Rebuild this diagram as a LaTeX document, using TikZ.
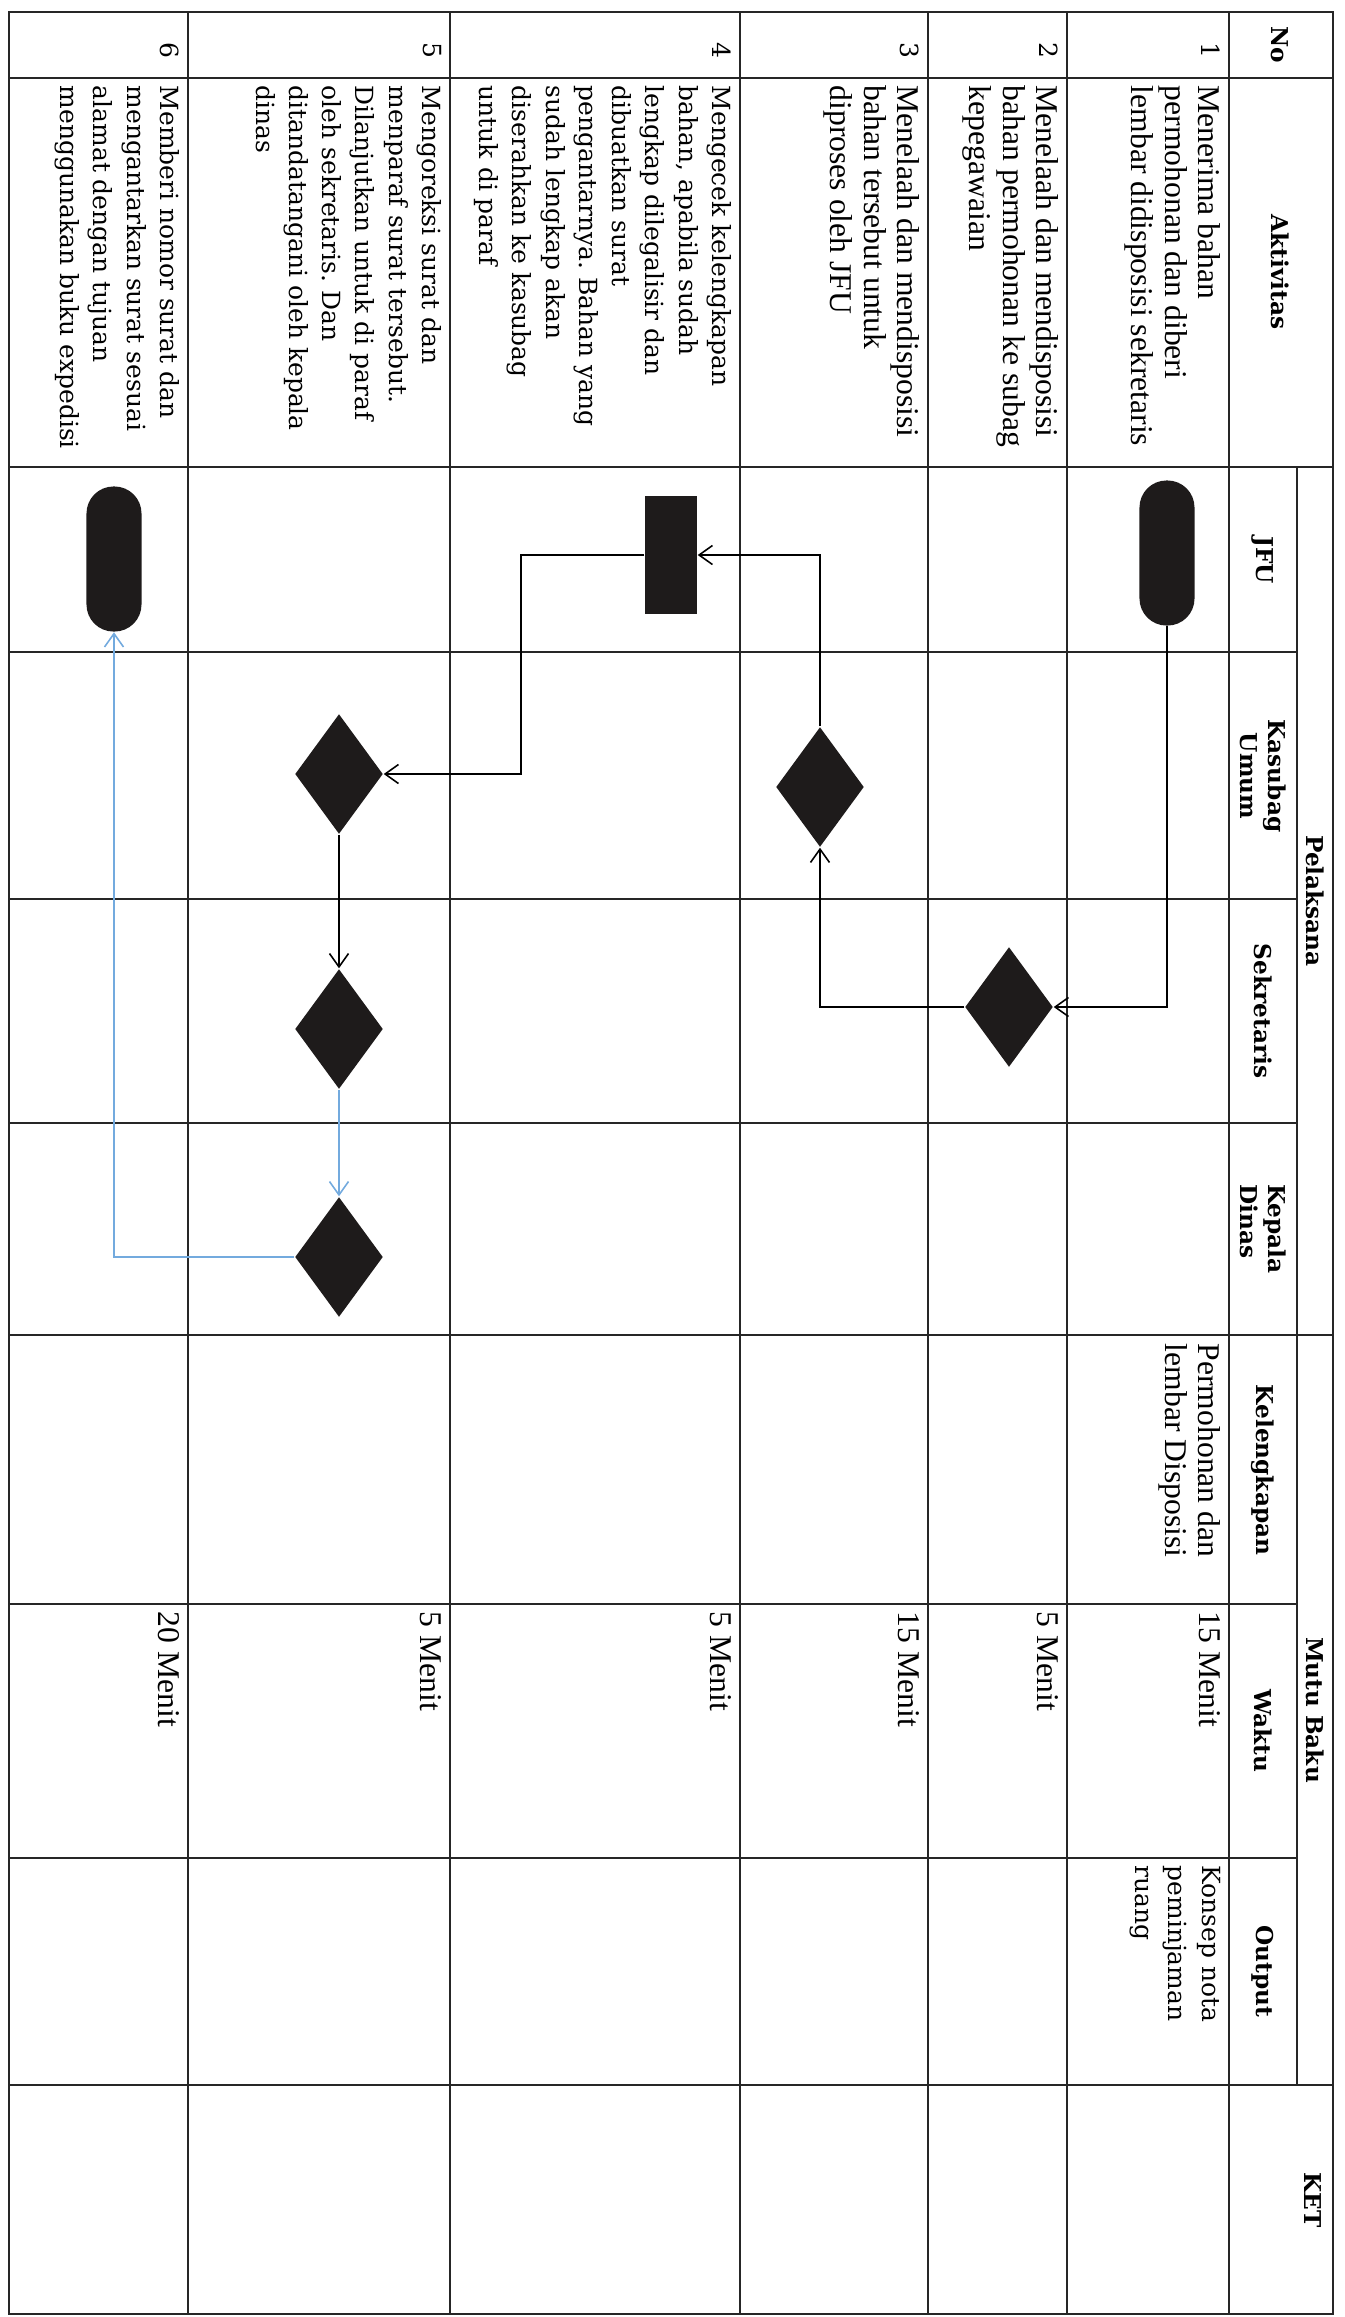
\documentclass[tikz,border=0pt]{standalone}
\usepackage{fontspec}
\setmainfont{DejaVu Serif}
\newfontfamily\timesfont{Liberation Serif}
\usetikzlibrary{shapes.geometric,arrows.meta}
\frenchspacing

\definecolor{shapefill}{RGB}{30,27,27}
\definecolor{flowblue}{RGB}{115,170,222}
\newcommand{\headfont}{\fontsize{6.6}{8}\selectfont\bfseries}
\newcommand{\timestext}{\timesfont\fontsize{9}{9.45}\selectfont}
\newcommand{\bookmantext}{\fontsize{7.1}{9.45}\selectfont}

\begin{document}
\begin{tikzpicture}[x=0.01cm,y=-0.01cm,
  grid/.style={line width=0.6pt,black!85},
  head/.style={rotate=-90,font=\headfont,inner sep=0pt},
  cellt/.style={rotate=-90,anchor=north west,inner sep=0pt,align=left,font=\timestext},
  cellb/.style={rotate=-90,anchor=north west,inner sep=0pt,align=left,font=\bookmantext},
  terminal/.style={rectangle,rounded corners=0.27cm,fill=shapefill,minimum width=0.55cm,minimum height=1.45cm,inner sep=0pt},
  process/.style={rectangle,fill=shapefill,minimum width=0.52cm,minimum height=1.18cm,inner sep=0pt},
  decision/.style={diamond,fill=shapefill,minimum width=0.88cm,minimum height=1.2cm,inner sep=0pt},
  flow/.style={line width=0.45pt,-{Straight Barb[length=3.8pt,width=5.4pt]}},
  flowb/.style={flow,draw=flowblue}]
  \useasboundingbox (0,0) rectangle (1344,2317);

  % table frame
  \draw[grid] (9,12) rectangle (1333,2314);
  \draw[grid] (188,12) -- (188,2314);
  \draw[grid] (450,12) -- (450,2314);
  \draw[grid] (740,12) -- (740,2314);
  \draw[grid] (928,12) -- (928,2314);
  \draw[grid] (1067,12) -- (1067,2314);
  \draw[grid] (1229,12) -- (1229,2314);
  \draw[grid] (1297,467) -- (1297,2085);
  \draw[grid] (9,78) -- (1333,78);
  \draw[grid] (9,467) -- (1333,467);
  \draw[grid] (9,1335) -- (1333,1335);
  \draw[grid] (9,2085) -- (1333,2085);
  \draw[grid] (9,652) -- (1297,652);
  \draw[grid] (9,899) -- (1297,899);
  \draw[grid] (9,1123) -- (1297,1123);
  \draw[grid] (9,1604) -- (1297,1604);
  \draw[grid] (9,1858) -- (1297,1858);

  % header
  \node[head] (hno) at (1280,45) {No};
  \node[head] (hakt) at (1280,272) {Aktivitas};
  \node[head] (hpel) at (1315,901) {Pelaksana};
  \node[head] (hjfu) at (1263,560) {JFU};
  \node[head,align=center] (hkas) at (1263,776) {Kasubag\\Umum};
  \node[head] (hsek) at (1263,1011) {Sekretaris};
  \node[head,align=left] (hkep) at (1263,1229) {Kepala\\Dinas};
  \node[head] (hmutu) at (1315,1710) {Mutu Baku};
  \node[head] (hkel) at (1263,1470) {Kelengkapan};
  \node[head] (hwak) at (1263,1731) {Waktu};
  \node[head] (hout) at (1263,1971) {Output};
  \node[head] (hket) at (1313,2200) {KET};

  % rows
  \node[cellb] (no1) at (1221,42) {1};
  \node[cellb] (no2) at (1059,42) {2};
  \node[cellb] (no3) at (920,42) {3};
  \node[cellb] (no4) at (732,42) {4};
  \node[cellb] (no5) at (442,42) {5};
  \node[cellb] (no6) at (180,42) {6};
  \node[cellt] (akt1) at (1221,85) {Menerima bahan\\permohonan dan diberi\\lembar didisposisi sekretaris};
  \node[cellt] (akt2) at (1059,85) {Menelaah dan mendisposisi\\bahan permohonan ke subag\\kepegawaian};
  \node[cellt] (akt3) at (920,85) {Menelaah dan mendisposisi\\bahan tersebut untuk\\diproses oleh JFU};
  \node[cellb] (akt4) at (732,85) {Mengecek kelengkapan\\bahan, apabila sudah\\lengkap dilegalisir dan\\dibuatkan surat\\pengantarnya. Bahan yang\\sudah lengkap akan\\diserahkan ke kasubag\\untuk di paraf};
  \node[cellb] (akt5) at (442,85) {Mengoreksi surat dan\\menparaf surat tersebut.\\Dilanjutkan untuk di paraf\\oleh sekretaris. Dan\\ditandatangani oleh kepala\\dinas};
  \node[cellb] (akt6) at (180,85) {Memberi nomor surat dan\\mengantarkan surat sesuai\\alamat dengan tujuan\\menggunakan buku expedisi};
  \node[cellt] (kel1) at (1221,1343) {Permohonan dan\\lembar Disposisi};
  \node[cellt] (wak1) at (1221,1611) {15 Menit};
  \node[cellt] (wak2) at (1059,1611) {5 Menit};
  \node[cellt] (wak3) at (920,1611) {15 Menit};
  \node[cellt] (wak4) at (732,1611) {5 Menit};
  \node[cellt] (wak5) at (442,1611) {5 Menit};
  \node[cellt] (wak6) at (180,1611) {20 Menit};
  \node[cellb] (out1) at (1221,1865) {Konsep nota\\peminjaman\\ruang};

  % flow
  \node[terminal] (t1) at (1167,553) {};
  \node[decision] (s2) at (1009,1007) {};
  \node[decision] (k3) at (820,787) {};
  \node[process] (p4) at (671,555) {};
  \node[decision] (k5) at (339,774) {};
  \node[decision] (s5) at (339,1029) {};
  \node[decision] (d5) at (339,1257) {};
  \node[terminal] (t6) at (114,559) {};

  \draw[flow] (t1.south) |- (s2.east);
  \draw[flow] (s2.west) -| (k3.south);
  \draw[flow] (k3.north) |- (p4.east);
  \draw[flow] (p4.west) -- ++(-123,0) |- (k5.east);
  \draw[flow] (k5.south) -- (s5.north);
  \draw[flowb] (s5.south) -- (d5.north);
  \draw[flowb] (d5.west) -| (t6.south);
\end{tikzpicture}
\end{document}
